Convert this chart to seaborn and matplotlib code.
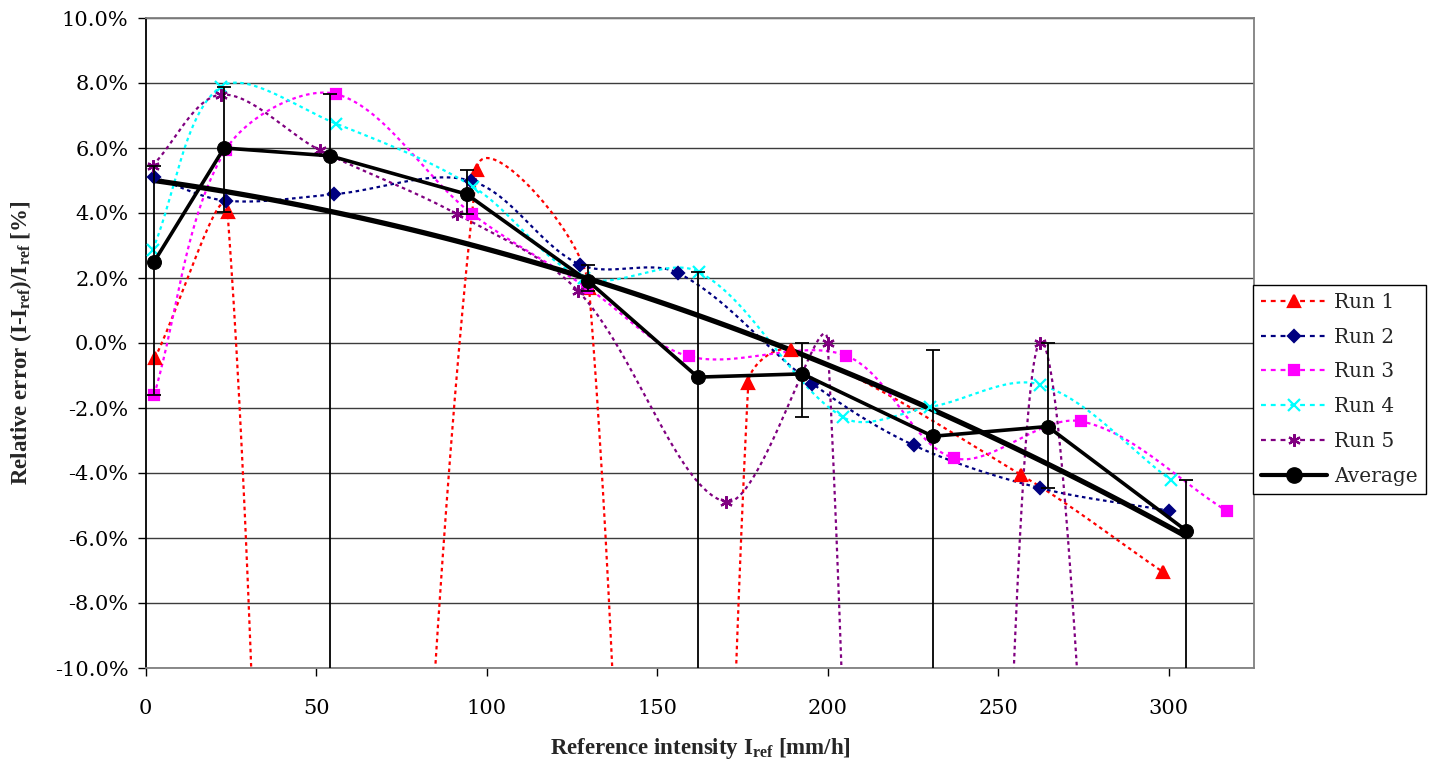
import numpy as np
import pandas as pd
import matplotlib
matplotlib.use("Agg")
import matplotlib.pyplot as plt
from matplotlib.lines import Line2D
from matplotlib.ticker import PercentFormatter, MultipleLocator
import seaborn as sns

# values: reference intensity [mm/h], relative error [%]
# points of run 1 / run 5 that fall far below -10% are only estimated
run1_x = [2.7, 24.0, 52, 97.1, 130.0, 155, 176.7, 189.2, 256.6, 298.2]
run1_y = [-0.46, 4.02, -70, 5.33, 1.7, -70, -1.23, -0.21, -4.05, -7.04]
run2_x = [2.4, 23.5, 55.3, 95.4, 127.4, 156.2, 195.5, 225.3, 262.1, 300.1]
run2_y = [5.10, 4.38, 4.58, 4.99, 2.41, 2.15, -1.25, -3.15, -4.46, -5.16]
run3_x = [2.5, 23.5, 55.8, 95.6, 129.5, 159.3, 205.4, 237.0, 274.2, 317.2]
run3_y = [-1.59, 5.95, 7.66, 3.98, 1.7, -0.41, -0.39, -3.54, -2.41, -5.18]
run4_x = [2.05, 22.0, 55.8, 96.1, 128.5, 162.3, 204.6, 230.0, 262.3, 300.7]
run4_y = [2.87, 7.88, 6.75, 4.80, 2.0, 2.18, -2.29, -1.97, -1.28, -4.22]
run5_x = [2.05, 22.0, 51.1, 91.2, 126.9, 170.2, 200.0, 226, 262.1, 315]
run5_y = [5.46, 7.64, 5.93, 3.97, 1.59, -4.89, 0.0, -120, 0.0, -110]
avg_x = [2.4, 23.0, 54.0, 94.1, 129.8, 161.9, 192.6, 230.8, 264.5, 305.1]
avg_y = [2.49, 6.00, 5.76, 4.58, 1.90, -1.05, -0.95, -2.87, -2.57, -5.77]

run_names = ["Run 1", "Run 2", "Run 3", "Run 4", "Run 5"]
run_colors = ["#FF0000", "#000080", "#FF00FF", "#00FFFF", "#800080"]
run_markers = ["^", "D", "s", "x", (6, 2, 0)]
run_msize = [8, 6, 7.5, 8, 9]

XMAX = 325
YMIN, YMAX = -10, 10

sns.set_theme(style="white")
plt.rcParams["font.family"] = ["DejaVu Serif"]
plt.rcParams["axes.unicode_minus"] = False
plt.rcParams["mathtext.fontset"] = "custom"
plt.rcParams["mathtext.rm"] = "Liberation Serif:bold"

W, H = 1432, 762
fig = plt.figure(figsize=(W / 100, H / 100), dpi=100)
L, R, T, B = 145.7, 1254, 18, 668
ax = fig.add_axes([L / W, 1 - B / H, (R - L) / W, (B - T) / H])

# pixel scale, used so the smoothing works in screen space like Excel does
sx = (R - L) / XMAX
sy = (B - T) / (YMAX - YMIN)


def smooth(xs, ys, n=300):
    p = np.column_stack([np.asarray(xs, float) * sx, np.asarray(ys, float) * sy])
    m = len(p)
    ext = np.vstack([p[0], p, p[-1]])
    d = np.linalg.norm(np.diff(ext, axis=0), axis=1)
    t = np.linspace(0, 1, n)[1:, None]
    out = [p[:1]]
    for i in range(m - 1):
        a, b = p[i], p[i + 1]
        fa = d[i + 1] / (d[i] + d[i + 1]) / 3
        fb = d[i + 1] / (d[i + 1] + d[i + 2]) / 3
        c1 = a + (ext[i + 2] - ext[i]) * fa
        c2 = b - (ext[i + 3] - ext[i + 1]) * fb
        out.append((1 - t) ** 3 * a + 3 * (1 - t) ** 2 * t * c1
                   + 3 * (1 - t) * t ** 2 * c2 + t ** 3 * b)
    q = np.vstack(out)
    return q[:, 0] / sx, q[:, 1] / sy


runs = [(run1_x, run1_y), (run2_x, run2_y), (run3_x, run3_y),
        (run4_x, run4_y), (run5_x, run5_y)]

for (rx, ry), name, col, mk, ms in zip(runs, run_names, run_colors, run_markers, run_msize):
    cx, cy = smooth(rx, ry)
    sns.lineplot(x=cx, y=cy, sort=False, estimator=None, color=col, lw=1.6,
                 linestyle=(0, (1.6, 1.6)), ax=ax, zorder=2)
    sns.lineplot(x=rx, y=ry, sort=False, estimator=None, color=col, linestyle="none",
                 marker=mk, markersize=ms, markeredgecolor=col, markeredgewidth=1.6,
                 ax=ax, zorder=3)

# min / max of the runs as error bars on the average
all_y = np.array([ry for _, ry in runs])
lo = all_y.min(axis=0)
hi = all_y.max(axis=0)
avg = np.array(avg_y)
ax.errorbar(avg_x, avg_y, yerr=[avg - lo, hi - avg], fmt="none", ecolor="black",
            elinewidth=1.3, capsize=5, capthick=1.3, zorder=4)

# 2nd order trend line of the average
sns.regplot(x=np.array(avg_x), y=avg, order=2, ci=None, scatter=False, truncate=True,
            line_kws=dict(color="black", lw=3.8), ax=ax)

sns.lineplot(x=avg_x, y=avg_y, sort=False, estimator=None, color="black", lw=2.6,
             marker="o", markersize=10, markeredgecolor="black", ax=ax, zorder=6)

ax.set_xlim(0, XMAX)
ax.set_ylim(YMIN, YMAX)
ax.xaxis.set_major_locator(MultipleLocator(50))
ax.yaxis.set_major_locator(MultipleLocator(2))
ax.yaxis.set_major_formatter(PercentFormatter(xmax=100, decimals=1))
ax.yaxis.grid(True, color="#3c3c3c", lw=1.0)
ax.xaxis.grid(False)
ax.tick_params(axis="both", direction="out", length=5.5, width=1, colors="black",
               labelsize=15)
ax.tick_params(axis="x", pad=17)
ax.tick_params(axis="y", pad=7)
ax.tick_params(left=True, bottom=True)
for s in ["top", "right", "bottom"]:
    ax.spines[s].set_color("#808080")
    ax.spines[s].set_linewidth(1.3)
ax.spines["left"].set_color("black")
ax.spines["left"].set_linewidth(1.3)

ax.set_xlabel(r"Reference intensity I$_{\rm ref}$ [mm/h]", fontfamily="Liberation Serif",
              fontweight="bold", fontsize=16.5)
ax.set_ylabel(r"Relative error (I-I$_{\rm ref}$)/I$_{\rm ref}$ [%]",
              fontfamily="Liberation Serif", fontweight="bold", fontsize=16.5)
ax.xaxis.set_label_coords((700.5 - L) / (R - L), (B - 736) / (B - T))
ax.yaxis.set_label_coords((34 - L) / (R - L), 0.5)

handles = []
for name, col, mk, ms in zip(run_names, run_colors, run_markers, run_msize):
    handles.append(Line2D([], [], color=col, lw=1.6, linestyle=(0, (2.2, 2.2)), marker=mk,
                          markersize=ms, markeredgecolor=col, markeredgewidth=1.6))
handles.append(Line2D([], [], color="black", lw=3, marker="o", markersize=11))
leg = ax.legend(handles, run_names + ["Average"], loc="upper left",
                bbox_to_anchor=(1252.7 / W, 1 - 285 / H), bbox_transform=fig.transFigure,
                borderaxespad=0, fancybox=False, framealpha=1, edgecolor="black",
                fontsize=14.5, handlelength=3.3, handletextpad=0.35, labelspacing=0.78,
                borderpad=0.4)
leg.get_frame().set_linewidth(1.0)

fig.savefig("out.png", dpi=100, facecolor="white")
